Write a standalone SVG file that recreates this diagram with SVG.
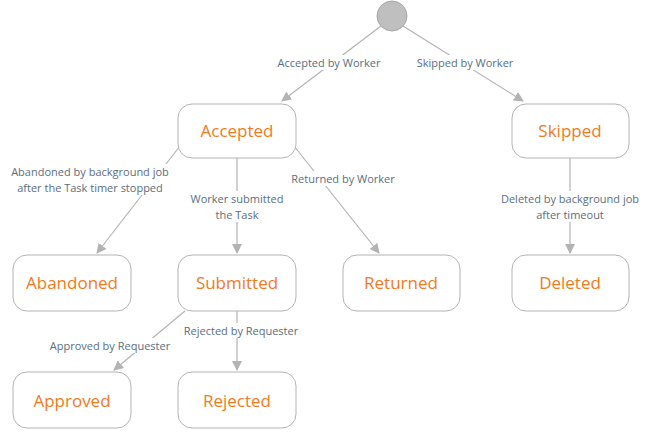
<svg xmlns="http://www.w3.org/2000/svg" width="651" height="432" viewBox="0 0 651 432">
<style>
.n rect{fill:#fff;stroke:#b3b3b3;stroke-width:1}
.n text{font-family:"Open Sans","Liberation Sans",sans-serif;font-size:17px;fill:#f07a1e;text-anchor:middle}
.e line{stroke:#b3b3b3;stroke-width:1.2;marker-end:url(#a)}
.l{font-family:"Open Sans","Liberation Sans",sans-serif;font-size:11px;fill:#5a6e80;text-anchor:middle}
.bg{fill:#fff}
</style>
<defs><marker id="a" viewBox="0 0 10 10" refX="9" refY="5" markerWidth="10" markerHeight="10" markerUnits="userSpaceOnUse" orient="auto"><path d="M0,0L10,5L0,10z" fill="#b3b3b3"/></marker></defs>
<rect width="651" height="432" fill="#fff"/>
<g class="e">
<line x1="381" y1="26" x2="282" y2="101"/>
<line x1="403" y1="26" x2="523" y2="101"/>
<line x1="180" y1="146" x2="97" y2="253"/>
<line x1="237" y1="157" x2="237" y2="253"/>
<line x1="294" y1="146" x2="379" y2="253"/>
<line x1="570" y1="157" x2="570" y2="253"/>
<line x1="185" y1="311" x2="114" y2="370"/>
<line x1="237" y1="311" x2="237" y2="370"/>
<rect class="bg" x="271" y="55" width="116" height="15"/>
<text class="l" x="329" y="67">Accepted by Worker</text>
<rect class="bg" x="411" y="55" width="108" height="15"/>
<text class="l" x="465" y="67">Skipped by Worker</text>
<rect class="bg" x="5" y="164" width="170" height="31"/>
<text class="l" x="90" y="176">Abandoned by background job</text>
<text class="l" x="90" y="192">after the Task timer stopped</text>
<rect class="bg" x="185" y="191" width="104" height="31"/>
<text class="l" x="237" y="203">Worker submitted</text>
<text class="l" x="237" y="219">the Task</text>
<rect class="bg" x="286" y="171" width="116" height="15"/>
<text class="l" x="343" y="183">Returned by Worker</text>
<rect class="bg" x="496" y="191" width="150" height="31"/>
<text class="l" x="570" y="203">Deleted by background job</text>
<text class="l" x="570" y="219">after timeout</text>
<rect class="bg" x="44" y="338" width="132" height="15"/>
<text class="l" x="110" y="350">Approved by Requester</text>
<rect class="bg" x="178" y="323" width="126" height="15"/>
<text class="l" x="241" y="335">Rejected by Requester</text>
</g>
<g id="start"><circle cx="392" cy="16" r="15" fill="#bfbfbf" stroke="#a6a6a6"/></g>
<g id="accepted" class="n"><rect x="178" y="104" width="118" height="54" rx="14"/><text x="237" y="137">Accepted</text></g>
<g id="skipped" class="n"><rect x="512" y="104" width="117" height="54" rx="14"/><text x="570" y="137">Skipped</text></g>
<g id="abandoned" class="n"><rect x="13" y="255" width="118" height="56" rx="14"/><text x="72" y="289">Abandoned</text></g>
<g id="submitted" class="n"><rect x="178" y="255" width="118" height="56" rx="14"/><text x="237" y="289">Submitted</text></g>
<g id="returned" class="n"><rect x="343" y="255" width="117" height="56" rx="14"/><text x="401" y="289">Returned</text></g>
<g id="deleted" class="n"><rect x="512" y="255" width="117" height="56" rx="14"/><text x="570" y="289">Deleted</text></g>
<g id="approved" class="n"><rect x="13" y="372" width="118" height="56" rx="14"/><text x="72" y="407">Approved</text></g>
<g id="rejected" class="n"><rect x="178" y="372" width="118" height="56" rx="14"/><text x="237" y="407">Rejected</text></g>
</svg>
